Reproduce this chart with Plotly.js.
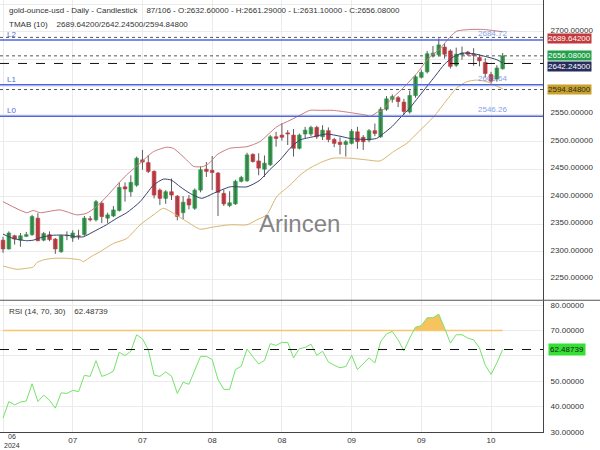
<!DOCTYPE html>
<html>
<head>
<meta charset="utf-8">
<script src="https://cdn.plot.ly/plotly-3.0.1.min.js"></script>
<style>
    html, body { margin: 0; padding: 0; background: #ffffff; }
    #chart { width: 600px; height: 450px; }
</style>
</head>
<body>
<div id="chart"></div>
<script>
// daily candles, bar index 0..86
const opens  = [2321, 2305, 2329, 2321, 2328, 2331, 2361, 2321, 2331, 2323, 2300, 2329, 2325, 2329, 2331, 2360, 2358, 2388, 2361, 2365,
                2375, 2418, 2409, 2421, 2467, 2462, 2446, 2412, 2397, 2409, 2401, 2371, 2396, 2379, 2412, 2450, 2448, 2443, 2406, 2384,
                2387, 2428, 2429, 2477, 2465, 2450, 2458, 2509, 2512, 2516, 2512, 2488, 2514, 2514, 2526, 2509, 2520, 2504, 2499, 2495,
                2497, 2518, 2508, 2503, 2520, 2509, 2559, 2577, 2580, 2572, 2554, 2584, 2617, 2627, 2656, 2658, 2672, 2665, 2639, 2658,
                2663, 2659, 2653, 2644, 2622, 2614, 2632.6];
const highs  = [2327, 2337, 2331, 2334, 2336, 2367, 2370, 2336, 2337, 2325, 2331, 2337, 2339, 2340, 2365, 2365, 2394, 2392, 2371, 2383,
                2426, 2426, 2439, 2473, 2485, 2476, 2448, 2415, 2412, 2433, 2403, 2401, 2403, 2415, 2455, 2463, 2474, 2445, 2413, 2410,
                2431, 2438, 2480, 2479, 2479, 2475, 2512, 2518, 2534, 2521, 2523, 2515, 2527, 2529, 2529, 2530, 2526, 2507, 2508, 2503,
                2523, 2527, 2512, 2523, 2533, 2563, 2583, 2586, 2583, 2578, 2593, 2621, 2631, 2665, 2674, 2688, 2679, 2668, 2671, 2673,
                2665, 2670, 2659, 2652, 2627, 2639, 2661.29];
const lows   = [2298, 2304, 2313, 2309, 2327, 2329, 2319, 2319, 2319, 2296, 2298, 2321, 2318, 2322, 2329, 2355, 2355, 2352, 2352, 2363,
                2373, 2391, 2400, 2418, 2449, 2443, 2397, 2385, 2387, 2394, 2357, 2359, 2377, 2376, 2408, 2436, 2412, 2365, 2383, 2381,
                2385, 2426, 2427, 2462, 2439, 2436, 2456, 2491, 2502, 2494, 2473, 2486, 2506, 2510, 2505, 2503, 2499, 2490, 2477, 2473,
                2495, 2487, 2485, 2499, 2510, 2507, 2556, 2571, 2563, 2549, 2551, 2580, 2615, 2624, 2653, 2655, 2651, 2633, 2636, 2649,
                2656, 2638, 2637, 2617, 2606, 2609, 2631.1];
const closes = [2305, 2334, 2323, 2329, 2331, 2364, 2320, 2333, 2322, 2305, 2329, 2330, 2334, 2328, 2361, 2358, 2391, 2364, 2367, 2376,
                2417, 2414, 2426, 2470, 2463, 2446, 2403, 2397, 2409, 2403, 2364, 2390, 2385, 2412, 2449, 2446, 2444, 2408, 2387, 2389,
                2428, 2435, 2476, 2464, 2452, 2461, 2509, 2506, 2508, 2514, 2488, 2512, 2521, 2526, 2509, 2521, 2504, 2497, 2495, 2500,
                2519, 2500, 2500, 2520, 2515, 2559, 2578, 2582, 2573, 2555, 2584, 2618, 2626, 2660, 2661, 2676, 2659, 2637, 2659, 2661,
                2659, 2657, 2647, 2624, 2610, 2634, 2656.08];

// TMAB (10) band lines
const upperBar = [0, 4.1, 5.2, 6.4, 9.8, 12.7, 14.4, 16.1, 17.8, 19.6, 21.3, 23.6, 25.9, 28.2, 29.3, 31.6, 32.8, 34.5, 35.6, 36.8, 39, 42,
                  44.2, 47.1, 49.4, 51.1, 52.8, 54.6, 56.8, 59.7, 62.6, 63.2, 64.5, 65.4, 66.6, 68.8, 71.2, 73.2, 75.2, 76.9, 78.1, 80.4,
                  82.7, 84.4, 86];
const upperVal = [2391, 2371, 2375, 2371, 2376, 2367, 2370, 2382, 2400, 2421, 2440, 2461, 2482, 2490, 2488, 2467, 2455, 2455, 2462, 2476, 2488, 2491,
                  2500, 2527, 2539, 2548, 2557, 2557, 2557, 2553, 2548, 2546, 2554, 2557, 2575, 2597, 2624, 2651, 2669, 2690, 2701, 2704,
                  2704, 2702, 2700];
const midBar = [0, 1.8, 4.1, 5.2, 6.9, 8.7, 11, 12.7, 13.8, 15.5, 17.8, 19.6, 21.3, 23.6, 25.9, 27.6, 29, 30.5, 32.2, 34.2, 36.2, 39.1,
                42, 44.2, 45.9, 47.7, 49.4, 51.1, 53.4, 55.7, 58, 59.7, 62.6, 64.3, 65.5, 67, 68.5, 70, 71.5, 73, 74.5, 76, 77.5, 79,
                81, 83, 85, 86];
const midVal = [2332, 2324, 2320, 2321, 2327, 2330, 2330, 2327, 2327, 2336, 2349, 2361, 2371, 2391, 2421, 2432, 2430, 2418, 2406, 2397, 2406, 2418,
                2418, 2430, 2449, 2467, 2488, 2503, 2509, 2514, 2510, 2506, 2504, 2506, 2515, 2528, 2545, 2561, 2581, 2601, 2621, 2641, 2654, 2661,
                2660, 2655, 2649, 2643];
const lowBar = [0, 2.4, 4.1, 5.2, 5.8, 6.9, 8.7, 11, 13.3, 13.8, 15.3, 16.7, 19, 21.3, 23.6, 25.9, 27.6, 29.3, 31.6, 33.9, 36.2, 39.1,
                42, 43.7, 45.4, 47.1, 49.4, 51.1, 52.8, 55.1, 56.8, 59.7, 62.6, 64.9, 67.2, 69.5, 71.8, 74.1, 76.4, 78.1, 79.8, 81.5,
                83.3, 85, 86];
const lowVal = [2274, 2268, 2270, 2272, 2280, 2285, 2288, 2288, 2285, 2282, 2292, 2300, 2315, 2324, 2349, 2367, 2379, 2370, 2355, 2341, 2345, 2349,
                2349, 2358, 2367, 2400, 2421, 2439, 2452, 2464, 2470, 2470, 2467, 2465, 2482, 2497, 2521, 2545, 2576, 2598, 2609, 2612,
                2609, 2601, 2596];

// RSI (14) per bar
const rsiVals = [35.5, 42, 40.7, 41.8, 42.2, 49, 42, 44.5, 42.5, 39.4, 45.4, 45.2, 46.4, 45.9, 52.3, 51.9, 58.1, 51.9, 52.7, 54,
                 61.4, 60.1, 61.8, 68.3, 66.7, 62.4, 52.4, 51.9, 53.7, 52, 45.2, 49.6, 48.8, 54, 59.8, 59.8, 58.5, 50.7, 46.8, 46.8,
                 54.6, 55.9, 62.7, 59.6, 56.8, 58.2, 64.8, 64.1, 65.3, 65.3, 59.2, 62.8, 63.3, 64.6, 60.2, 61.8, 57.6, 56.3, 55.3, 55.8,
                 60.2, 54.6, 56.8, 59.2, 57.2, 65.7, 68.6, 69.6, 66.3, 62, 67, 71.3, 71.9, 75, 75, 76.4, 70.9, 65, 68.3, 68.3,
                 67, 66.3, 63.1, 56.3, 52.7, 57.2, 62.48739];
const rsiHigh = 70;

// date ticks every 12 bars; the first one is written next to its grid line
const tickBars = [0, 12, 24, 36, 48, 60, 72, 84];
const tickLabels = ['', '07', '07', '08', '08', '09', '09', '10'];
const firstMonth = '06';
const firstYear = '2024';

// price labels shown on the right axis (2600 and 2650 sit under the value boxes)
const priceTicks = [2250, 2300, 2350, 2400, 2450, 2500, 2550, 2700, 2750];
const rsiTicks = [30, 40, 50, 70, 80];

const levelNames = ['L2', 'L1', 'L0'];
const levelValues = [2684.72, 2603.64, 2546.26];

// upper band, close, middle band, lower band
const lastValues = [2689.642, 2656.08, 2642.245, 2594.848];

const titleLine1 = 'gold-ounce-usd - Daily - Candlestick\u00a0\u00a0\u00a0\u00a087/106 - O:2632.60000 - H:2661.29000 - L:2631.10000 - C:2656.08000';
const titleLine2 = 'TMAB (10)\u00a0\u00a0\u00a0\u00a02689.64200/2642.24500/2594.84800';
const rsiTitle = 'RSI (14, 70, 30)\u00a0\u00a0\u00a0\u00a062.48739';

const FONT = 'Liberation Sans, Arial, sans-serif';
const UP = '#27a246';
const DOWN = '#d8303a';
const GRID = '#ebebeb';
const SPLIT = 0.305;

const idx = opens.map((_, i) => i);
const lastIdx = idx[idx.length - 1];

const wicks = {
    x: idx.flatMap(i => [i, i, null]),
    y: idx.flatMap(i => [lows[i], highs[i], null]),
    type: 'scatter', mode: 'lines',
    line: { color: '#5c5c5c', width: 1 },
    xaxis: 'x', yaxis: 'y', hoverinfo: 'skip'
};

const bodyColors = idx.map(i => closes[i] >= opens[i] ? UP : DOWN);
const bodies = {
    x: idx,
    base: idx.map(i => Math.min(opens[i], closes[i])),
    y: idx.map(i => Math.abs(closes[i] - opens[i])),
    type: 'bar', width: 0.64,
    marker: { color: bodyColors, line: { color: bodyColors, width: 0.6 } },
    xaxis: 'x', yaxis: 'y', hoverinfo: 'skip'
};

const band = (xs, ys, color) => ({
    x: xs, y: ys, type: 'scatter', mode: 'lines',
    line: { color: color, width: 1, shape: 'spline', smoothing: 0.6 },
    xaxis: 'x', yaxis: 'y', hoverinfo: 'skip'
});

// overbought area between the RSI line and the 70 level
const obX = [], obY = [];
rsiVals.forEach((v, i) => {
    const prev = i > 0 ? rsiVals[i - 1] : null;
    if (v > rsiHigh) {
        if (prev !== null && prev <= rsiHigh) {
            obX.push(i - 1 + (rsiHigh - prev) / (v - prev)); obY.push(rsiHigh);
        }
        obX.push(i); obY.push(v);
    } else if (prev !== null && prev > rsiHigh) {
        obX.push(i - 1 + (prev - rsiHigh) / (prev - v)); obY.push(rsiHigh);
        obX.push(null); obY.push(null);
    }
});

const traces = [
    wicks,
    bodies,
    band(upperBar, upperVal, '#c97c7e'),
    band(midBar, midVal, '#39406e'),
    band(lowBar, lowVal, '#d9b56c'),
    {
        x: obX, y: obY, type: 'scatter', mode: 'lines', fill: 'toself',
        fillcolor: '#f7c35e', line: { width: 0 }, xaxis: 'x', yaxis: 'y2', hoverinfo: 'skip'
    },
    {
        x: [idx[0], lastIdx], y: [rsiHigh, rsiHigh], type: 'scatter', mode: 'lines',
        line: { color: '#f6c66f', width: 1.5 }, xaxis: 'x', yaxis: 'y2', hoverinfo: 'skip'
    },
    {
        x: idx, y: rsiVals, type: 'scatter', mode: 'lines',
        line: { color: '#74e26a', width: 1 }, xaxis: 'x', yaxis: 'y2', hoverinfo: 'skip'
    }
];

const lastStyles = [
    { dash: 'dot', color: '#555555', bg: '#c23a3c', fg: '#ffffff', shift: -1 },
    { dash: 'dot', color: '#555555', bg: '#22a04a', fg: '#ffffff', shift: 0 },
    { dash: 'dash', color: '#111111', bg: '#262c5c', fg: '#ffffff', shift: -3 },
    { dash: 'dot', color: '#555555', bg: '#c9a22a', fg: '#2a2a2a', shift: 0 }
];

const shapes = [];
levelValues.forEach(v => shapes.push({
    type: 'line', xref: 'paper', x0: 0, x1: 1, yref: 'y', y0: v, y1: v,
    line: { color: '#4f64e0', width: 1.5 }
}));
lastValues.forEach((v, k) => shapes.push({
    type: 'line', xref: 'paper', x0: 0, x1: 1, yref: 'y', y0: v, y1: v,
    line: { color: lastStyles[k].color, width: 1, dash: lastStyles[k].dash }
}));
shapes.push({
    type: 'line', xref: 'paper', x0: 0, x1: 1, yref: 'y2', y0: rsiVals[lastIdx], y1: rsiVals[lastIdx],
    line: { color: '#111111', width: 1, dash: 'dash' }
});
shapes.push({
    type: 'line', xref: 'paper', x0: 0, x1: 1.11, yref: 'paper', y0: SPLIT, y1: SPLIT,
    line: { color: '#555555', width: 1.2 }
});

const tickFont = { family: FONT, size: 8, color: '#333333' };
const smallTickFont = { family: FONT, size: 7, color: '#333333' };

const annotations = [
    { text: titleLine1, xref: 'paper', yref: 'paper', x: 0.012, y: 0.975, xanchor: 'left', yanchor: 'middle',
      showarrow: false, font: tickFont },
    { text: titleLine2, xref: 'paper', yref: 'paper', x: 0.012, y: 0.943, xanchor: 'left', yanchor: 'middle',
      showarrow: false, font: tickFont },
    { text: rsiTitle, xref: 'paper', yref: 'paper', x: 0.012, y: 0.28, xanchor: 'left', yanchor: 'middle',
      showarrow: false, font: tickFont },
    { text: 'Arincen', xref: 'paper', yref: 'paper', x: 0.552, y: 0.483, xanchor: 'center', yanchor: 'middle',
      showarrow: false, opacity: 0.85, font: { family: FONT, size: 24, color: '#707070' } },
    { text: firstMonth, xref: 'x', yref: 'paper', x: tickBars[0], y: 0, xanchor: 'left', yanchor: 'top',
      xshift: 4, yshift: 0, borderpad: 0, showarrow: false, font: smallTickFont },
    { text: firstYear, xref: 'x', yref: 'paper', x: tickBars[0], y: 0, xanchor: 'left', yanchor: 'bottom',
      yshift: -18, borderpad: 0, showarrow: false, font: smallTickFont }
];
levelValues.forEach((v, k) => {
    annotations.push({
        text: levelNames[k], xref: 'paper', yref: 'y', x: 0.01, y: v, xanchor: 'left', yanchor: 'bottom', yshift: -1,
        showarrow: false, font: { family: FONT, size: 8, color: '#5568d8' }
    });
    annotations.push({
        text: v.toFixed(2), xref: 'paper', yref: 'y', x: 0.937, y: v, xanchor: 'right', yanchor: 'bottom', yshift: 0,
        showarrow: false, opacity: 0.85, font: { family: FONT, size: 8, color: '#6f8fe6' }
    });
});
lastValues.forEach((v, k) => annotations.push({
    text: v.toFixed(5), xref: 'paper', yref: 'y', x: 1, y: v, xanchor: 'left', yanchor: 'middle',
    xshift: 4, yshift: lastStyles[k].shift, showarrow: false,
    bgcolor: lastStyles[k].bg, borderpad: 0,
    font: { family: FONT, size: 8, color: lastStyles[k].fg }
}));
annotations.push({
    text: rsiVals[lastIdx].toFixed(5), xref: 'paper', yref: 'y2', x: 1, y: rsiVals[lastIdx], xanchor: 'left', yanchor: 'middle',
    xshift: 5, showarrow: false, bgcolor: '#35e035', borderpad: 1,
    font: { family: FONT, size: 8, color: '#1a1a1a' }
});

const layout = {
    width: 600, height: 450,
    margin: { l: 0, r: 57, t: 0, b: 18 },
    paper_bgcolor: '#ffffff', plot_bgcolor: '#ffffff',
    showlegend: false, barmode: 'overlay',
    font: { family: FONT },
    xaxis: {
        range: [-0.52, 92.94], anchor: 'y2',
        tickmode: 'array', tickvals: tickBars, ticktext: tickLabels,
        showgrid: true, gridcolor: GRID, zeroline: false,
        showline: true, linecolor: '#444444', linewidth: 1,
        ticks: '', tickfont: tickFont
    },
    yaxis: {
        domain: [SPLIT, 1], range: [2211.8, 2757.6], anchor: 'x', side: 'right',
        tickmode: 'array', tickvals: priceTicks, tickformat: '.5f',
        showgrid: true, gridcolor: GRID, zeroline: false,
        minor: { tick0: 2200, dtick: 50, showgrid: true, gridcolor: GRID, ticks: '' },
        showline: true, linecolor: '#444444', linewidth: 1,
        ticks: '', ticklabelstandoff: 5, ticklabelshift: -2, tickfont: tickFont
    },
    yaxis2: {
        domain: [0, SPLIT], range: [30, 81.9], anchor: 'x', side: 'right',
        tickmode: 'array', tickvals: rsiTicks, tickformat: '.5f',
        showgrid: true, gridcolor: GRID, zeroline: false,
        minor: { tick0: 30, dtick: 10, showgrid: true, gridcolor: GRID, ticks: '' },
        showline: true, linecolor: '#444444', linewidth: 1,
        ticks: '', ticklabelstandoff: 5, tickfont: tickFont
    },
    shapes: shapes,
    annotations: annotations
};

Plotly.newPlot('chart', traces, layout, { displayModeBar: false, staticPlot: true });
</script>
</body>
</html>
